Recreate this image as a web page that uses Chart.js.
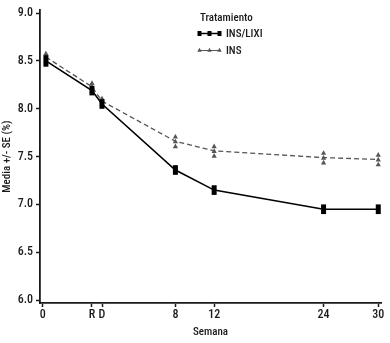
<!DOCTYPE html>
<html lang="es">
<head>
  <meta charset="UTF-8" />
  <title>HbA1c por semana</title>
  <script src="https://cdn.jsdelivr.net/npm/chart.js"></script>
  <style>
    * { margin: 0; padding: 0; box-sizing: border-box; }
    body { background: #fff; width: 390px; height: 343px; overflow: hidden; }
    .chart-box { position: relative; width: 390px; height: 343px; }
  </style>
</head>
<body>
  <div class="chart-box">
    <canvas id="hbChart" width="390" height="343"></canvas>
  </div>

  <script>
    // week positions on the x scale (0, R, D are squeezed in front of week 8)
    const tickPos = [-6.8, -1.4, -0.3, 7.75, 12, 24, 30];
    const tickLabels = ['0', 'R', 'D', '8', '12', '24', '30'];
    const pointPos = [-6.45, -1.4, -0.3, 7.75, 12, 24, 30];

    const lixiMean = [8.50, 8.19, 8.05, 7.36, 7.15, 6.95, 6.95];
    const lixiSE = [0.05, 0.04, 0.04, 0.04, 0.04, 0.04, 0.04];
    const insMean = [8.54, 8.23, 8.08, 7.66, 7.56, 7.49, 7.47];
    const insSE = [0.04, 0.04, 0.03, 0.05, 0.05, 0.05, 0.05];

    const yTicks = [6.0, 6.5, 7.0, 7.5, 8.0, 8.5, 9.0];

    const FONT = "'Roboto Condensed', 'DejaVu Sans Condensed', sans-serif";
    const INK = '#1a1a1a';
    const GREY = '#555';

    function toXY(xs, ys) {
      return xs.map((x, i) => ({ x: x, y: ys[i] }));
    }

    function triangle(ctx, x, y, s) {
      ctx.beginPath();
      ctx.moveTo(x, y - s);
      ctx.lineTo(x + s, y + s * 0.8);
      ctx.lineTo(x - s, y + s * 0.8);
      ctx.closePath();
      ctx.fill();
    }

    // error bars: black blocks for INS/LIXI, stacked triangles for INS
    const errorBars = {
      id: 'errorBars',
      afterDatasetsDraw(chart) {
        const { ctx, scales } = chart;
        const xs = scales.x, ys = scales.y;
        ctx.save();
        ctx.fillStyle = GREY;
        pointPos.forEach((p, i) => {
          const x = xs.getPixelForValue(p);
          [insMean[i] + insSE[i], insMean[i], insMean[i] - insSE[i]].forEach(v => {
            triangle(ctx, x, ys.getPixelForValue(v), 2.6);
          });
        });
        ctx.fillStyle = '#000';
        pointPos.forEach((p, i) => {
          const x = xs.getPixelForValue(p);
          const top = ys.getPixelForValue(lixiMean[i] + lixiSE[i]);
          const bot = ys.getPixelForValue(lixiMean[i] - lixiSE[i]);
          ctx.fillRect(x - 2.5, top - 1, 5, bot - top + 2);
        });
        ctx.restore();
      }
    };

    // legend drawn by hand, top right
    const legendBox = {
      id: 'legendBox',
      afterDraw(chart) {
        const ctx = chart.ctx;
        ctx.save();
        ctx.font = '500 11px ' + FONT;
        ctx.fillStyle = INK;
        ctx.textBaseline = 'middle';
        ctx.fillText('Tratamiento', 200, 18);

        // INS/LIXI sample
        ctx.strokeStyle = '#000';
        ctx.lineWidth = 1.5;
        ctx.beginPath();
        ctx.moveTo(198, 33.5);
        ctx.lineTo(221, 33.5);
        ctx.stroke();
        ctx.fillStyle = '#000';
        [199.5, 209.5, 219.5].forEach(x => ctx.fillRect(x - 2, 31, 4, 5));
        ctx.fillStyle = INK;
        ctx.fillText('INS/LIXI', 226, 34);

        // INS sample
        ctx.strokeStyle = GREY;
        ctx.lineWidth = 1;
        ctx.beginPath();
        ctx.moveTo(198, 50.5);
        ctx.lineTo(221, 50.5);
        ctx.stroke();
        ctx.fillStyle = GREY;
        [199.5, 209.5, 219.5].forEach(x => triangle(ctx, x, 50, 2.2));
        ctx.fillStyle = INK;
        ctx.fillText('INS', 226, 51);
        ctx.restore();
      }
    };

    const tickFont = { family: FONT, size: 12, weight: '500' };
    const titleFont = { family: FONT, size: 11, weight: '500' };

    new Chart(document.getElementById('hbChart'), {
      type: 'line',
      data: {
        datasets: [
          {
            label: 'INS',
            data: toXY(pointPos, insMean),
            borderColor: GREY,
            borderWidth: 1.3,
            borderDash: [5, 3],
            pointRadius: 0,
            tension: 0
          },
          {
            label: 'INS/LIXI',
            data: toXY(pointPos, lixiMean),
            borderColor: '#000',
            borderWidth: 1.6,
            pointRadius: 0,
            tension: 0
          }
        ]
      },
      options: {
        responsive: false,
        animation: false,
        events: [],
        layout: { padding: { top: 6, right: 9, left: 0, bottom: 0 } },
        plugins: { legend: { display: false }, tooltip: { enabled: false } },
        scales: {
          x: {
            type: 'linear',
            min: -7.1,
            max: 30.3,
            afterBuildTicks(scale) {
              scale.ticks = tickPos.map(v => ({ value: v }));
            },
            afterFit(scale) { scale.height = 40; },
            grid: {
              display: true,
              drawOnChartArea: false,
              drawTicks: true,
              tickLength: 4,
              tickWidth: 1.5,
              color: INK
            },
            border: { display: true, color: INK, width: 1.8 },
            ticks: {
              autoSkip: false,
              maxRotation: 0,
              padding: 1,
              color: INK,
              font: tickFont,
              callback: (v, i) => tickLabels[i]
            },
            title: {
              display: true,
              text: 'Semana',
              color: INK,
              font: titleFont,
              padding: { top: 0, bottom: 4 }
            }
          },
          y: {
            min: 5.97,
            max: 9.03,
            afterBuildTicks(scale) {
              scale.ticks = yTicks.map(v => ({ value: v }));
            },
            afterFit(scale) { scale.width = 40; },
            grid: {
              display: true,
              drawOnChartArea: false,
              drawTicks: true,
              tickLength: 4,
              tickWidth: 1.5,
              color: INK
            },
            border: { display: true, color: INK, width: 1.8 },
            ticks: {
              padding: 3,
              color: INK,
              font: tickFont,
              callback: v => v.toFixed(1)
            },
            title: {
              display: true,
              text: 'Media +/- SE (%)',
              color: INK,
              font: titleFont,
              padding: { top: 1, bottom: 0 }
            }
          }
        }
      },
      plugins: [errorBars, legendBox]
    });
  </script>
</body>
</html>
